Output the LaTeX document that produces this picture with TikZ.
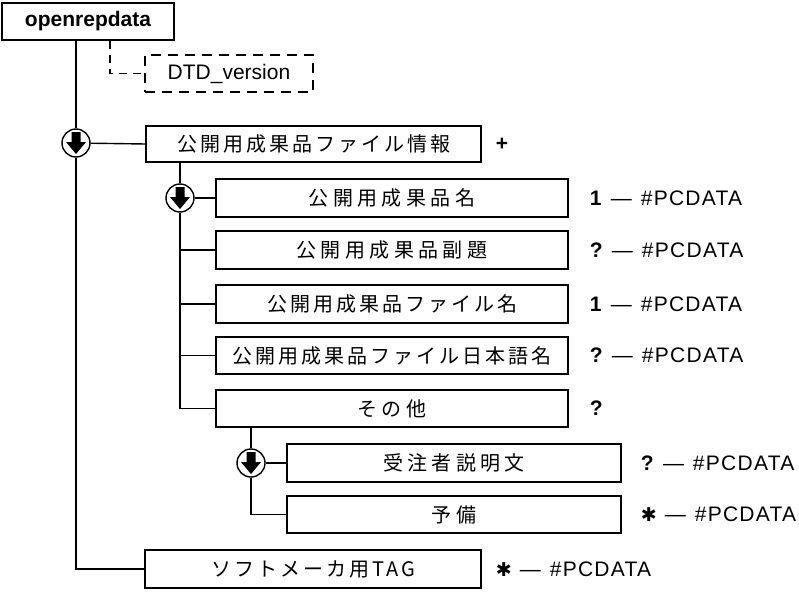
\documentclass[tikz,border=0pt]{standalone}
\usepackage{fontspec}
\setmainfont{Liberation Sans}
\newfontfamily\cardfont[LetterSpace=6]{Liberation Sans}
\newfontfamily\jpfont[LetterSpace=15]{Noto Sans CJK JP}
\newfontfamily\jpwide[LetterSpace=22]{Noto Sans CJK JP}
\newfontfamily\symfont{DejaVu Sans}
\usetikzlibrary{positioning}
\tikzset{
  >=latex,
  x=1pt, y=-1pt,
}
\tikzstyle{elem}=[draw,line width=1.4pt,minimum height=37pt,inner sep=0pt,
  font=\jpfont\fontsize{20}{23}\selectfont]
\tikzstyle{short}=[elem,font=\jpwide\fontsize{20}{23}\selectfont]
\tikzstyle{attr}=[elem,dash pattern=on 10pt off 7pt,font=\fontsize{21}{24}\selectfont]
\tikzstyle{card}=[inner sep=0pt,font=\cardfont\fontsize{21}{24}\selectfont]
\tikzstyle{seq}=[circle,draw,line width=1.4pt,minimum size=28pt,inner sep=0pt,fill=white]
\tikzstyle{link}=[line width=1.4pt]
\newcommand\seqmark[2]{%
  \node[seq] (#1) at (#2) {};
  \fill[shift={(#2)}] (-4.5,-11) -- (4.5,-11) -- (4.5,-1) -- (10,-1) -- (0,11)
    -- (-10,-1) -- (-4.5,-1) -- cycle;}
\newcommand\pcd[1]{\textbf{#1}\hspace{8pt}—\hspace{9pt}\#PCDATA}
\newcommand\anymark{{\symfont\fontsize{19}{19}\selectfont ✱}}

\begin{document}
\begin{tikzpicture}
    \useasboundingbox (0,0) rectangle (799,591);
    \node[elem,minimum width=172pt,font=\bfseries\fontsize{21}{24}\selectfont]
      (root) at (88,21.5) {openrepdata};
    \node[attr,minimum width=168pt,minimum height=37pt] (dtd) at (229,73.5) {DTD\_version};
    \node[elem,minimum width=335pt,minimum height=36pt] (info) at (313.5,144)
      {公開用成果品ファイル情報};
    \node[short,minimum width=352pt,minimum height=38pt] (name) at (392,198) {公開用成果品名};
    \node[short,minimum width=352pt,minimum height=38pt] (subtitle) at (392,250) {公開用成果品副題};
    \node[elem,minimum width=352pt,minimum height=38pt] (fname) at (392,304) {公開用成果品ファイル名};
    \node[elem,minimum width=352pt,minimum height=37pt] (jpname) at (392,355.5)
      {公開用成果品ファイル日本語名};
    \node[short,minimum width=352pt,minimum height=37pt] (other) at (392,408.5) {その他};
    \node[short,minimum width=334pt,minimum height=38pt] (client) at (454,463) {受注者説明文};
    \node[short,minimum width=334pt,minimum height=37pt] (spare) at (454,514.5) {予備};
    \node[elem,minimum width=336pt,minimum height=38pt] (soft) at (313,569) {ソフトメーカ用TAG};
    % cardinality
    \node[card,right=14pt of info] {\textbf{+}};
    \node[card,right=21pt of name] {\pcd{1}};
    \node[card,right=21pt of subtitle] {\pcd{?}};
    \node[card,right=21pt of fname] {\pcd{1}};
    \node[card,right=21pt of jpname] {\pcd{?}};
    \node[card,right=21pt of other] {\textbf{?}};
    \node[card,right=19pt of client] {\pcd{?}};
    \node[card,right=19pt of spare] {\pcd{\anymark}};
    \node[card,right=14pt of soft] {\pcd{\anymark}};
    % connectors
    \seqmark{s1}{76,143}
    \seqmark{s2}{180,198}
    \seqmark{s3}{251,463}
    \draw[link,dash pattern=on 8pt off 6pt] ([xshift=22pt]root.south) |- (dtd.west);
    \draw[link] (root.south -| s1) -- (s1) -- (s1 |- soft.west) -- (soft.west);
    \draw[link] (s1) -- (info.west);
    \draw[link] (info.south -| s2) -- (s2) -- (s2 |- other.west) -- (other.west);
    \foreach \n in {subtitle,fname,jpname}
      \draw[link] (s2 |- \n.west) -- (\n.west);
    \draw[link] (s2) -- (name.west);
    \draw[link] (other.south -| s3) -- (s3) -- (s3 |- spare.west) -- (spare.west);
    \draw[link] (s3) -- (client.west);
\end{tikzpicture}
\end{document}
